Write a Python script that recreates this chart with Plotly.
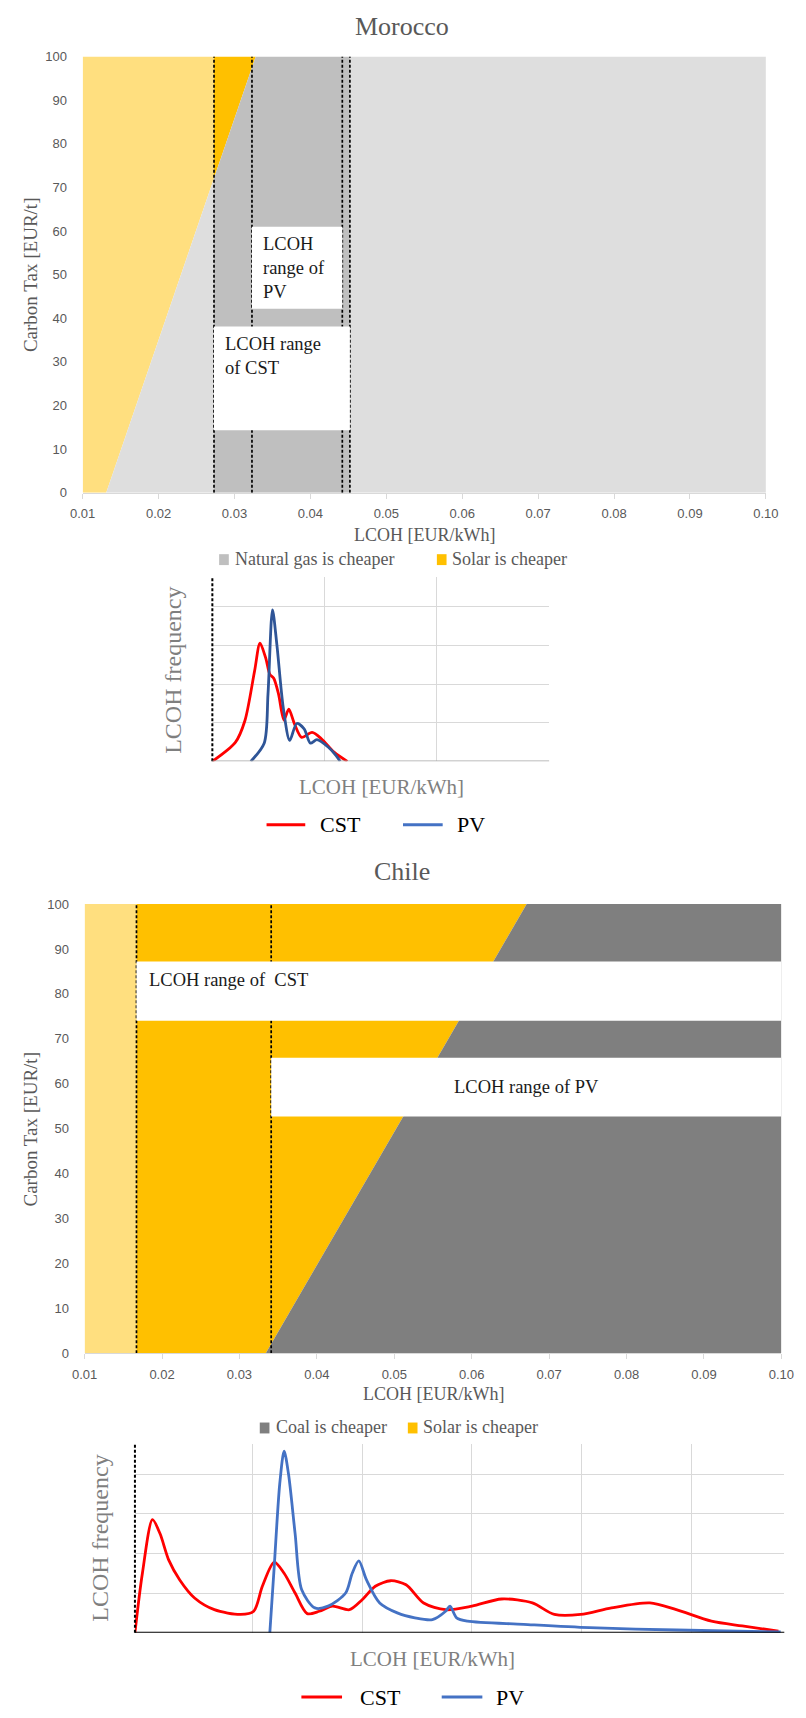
import plotly.graph_objects as go

W, H = 806, 1718

# ---------------- data ----------------
lcoh_ticks = [0.01, 0.02, 0.03, 0.04, 0.05, 0.06, 0.07, 0.08, 0.09, 0.10]
tax_ticks = [0, 10, 20, 30, 40, 50, 60, 70, 80, 90, 100]
tax_span = [0, 100]

# Morocco: LCOH at which solar = natural gas, at carbon tax 0 and 100 EUR/t
morocco_breakeven = [0.0131, 0.0328]
morocco_cst_range = [0.0273, 0.0452]
morocco_pv_range = [0.0323, 0.0442]
morocco_cst_box_tax = [14.3, 38.1]
morocco_pv_box_tax = [42.2, 61.0]

# Chile: LCOH at which solar = coal, at carbon tax 0 and 100 EUR/t
chile_breakeven = [0.0334, 0.0671]
chile_cst_range = [0.0167, 0.10]
chile_pv_range = [0.0341, 0.10]
chile_cst_box_tax = [74.0, 87.2]
chile_pv_box_tax = [52.7, 65.8]

# LCOH frequency curves (relative LCOH position, relative frequency)
mor_cst_x = [0, 0.205, 0.29, 0.376, 0.425, 0.476, 0.513, 0.547, 0.59, 0.638, 0.681, 0.732, 0.797, 0.889, 0.974, 1.085, 1.203]
mor_cst_y = [0, 0.49, 1.05, 2.33, 3.06, 2.67, 2.25, 2.15, 1.74, 1.07, 1.35, 0.97, 0.62, 0.75, 0.58, 0.24, 0]
mor_pv_x = [0.342, 0.462, 0.496, 0.536, 0.575, 0.632, 0.69, 0.752, 0.818, 0.874, 0.932, 1.032, 1.103, 1.139]
mor_pv_y = [0, 0.47, 1.74, 3.92, 3.02, 1.39, 0.54, 0.98, 0.84, 0.47, 0.56, 0.37, 0.15, 0]

chi_cst_x = [-0.068, 0.0, 0.092, 0.16, 0.24, 0.34, 0.475, 0.655, 0.894, 1.013, 1.092, 1.2, 1.29, 1.39, 1.5,
             1.61, 1.73, 1.885, 2.0, 2.12, 2.26, 2.4, 2.56, 2.76, 3.0, 3.27, 3.55, 3.75, 3.99, 4.27, 4.62,
             4.86, 5.18, 5.46, 5.79]
chi_cst_y = [0, 1.5, 2.85, 2.5, 1.83, 1.33, 0.875, 0.58, 0.46, 0.54, 1.17, 1.78, 1.5, 1.0, 0.48,
             0.54, 0.67, 0.58, 0.83, 1.17, 1.31, 1.21, 0.75, 0.58, 0.67, 0.85, 0.75, 0.46, 0.46, 0.625, 0.75,
             0.58, 0.29, 0.17, 0.04]
chi_pv_x = [1.16, 1.2, 1.25, 1.29, 1.33, 1.39, 1.45, 1.57, 1.69, 1.85, 1.91, 1.97, 2.04, 2.16, 2.32,
            2.48, 2.64, 2.76, 2.8, 2.86, 2.96, 3.47, 4.07, 4.86, 5.81]
chi_pv_y = [0, 1.67, 3.75, 4.58, 4.0, 2.5, 1.08, 0.625, 0.67, 1.0, 1.5, 1.81, 1.33, 0.75, 0.5,
            0.375, 0.33, 0.54, 0.67, 0.375, 0.29, 0.21, 0.125, 0.067, 0.02]

# ---------------- styles ----------------
SERIF = "Liberation Serif, Times New Roman, serif"
NARROW = "Liberation Sans Narrow, Liberation Sans, Arial, sans-serif"
GRAY_TXT = "#595959"
LIGHT_YEL = "#FFDF7F"
ORANGE = "#FFC000"
LIGHT_GRAY = "#DEDEDE"
MID_GRAY = "#BFBFBF"
DARK_GRAY = "#7F7F7F"
RED = "#FF0000"


def px(x):
    return x / W


def py(y):
    return 1 - y / H


def side_polygons(bd, a, b):
    """Solar-cheaper and fossil-cheaper polygons inside LCOH interval [a, b]."""
    bd0, bd1 = bd

    def bx(t):
        return bd0 + (bd1 - bd0) * t / 100.0

    def ty(x):
        return (x - bd0) / (bd1 - bd0) * 100.0

    ts = {0.0, 100.0}
    for v in (a, b):
        t = ty(v)
        if 0 < t < 100:
            ts.add(t)
    ts = sorted(ts)
    s_t, s_r, f_t, f_l = [], [], [], []
    for t in ts:
        r = min(b, bx(t))
        if r >= a - 1e-12:
            s_t.append(t)
            s_r.append(r)
        l = max(a, bx(t))
        if l <= b + 1e-12:
            f_t.append(t)
            f_l.append(l)
    solar = None
    if len(s_t) >= 2:
        solar = ([a] * len(s_t) + s_r[::-1], s_t + s_t[::-1])
    fossil = None
    if len(f_t) >= 2:
        fossil = (f_l + [b] * len(f_t), f_t + f_t[::-1])
    return solar, fossil


fig = go.Figure()


def add_poly(poly, color, xa, ya):
    if poly is None:
        return
    xs, ys = poly
    fig.add_trace(go.Scatter(x=xs, y=ys, fill="toself", fillcolor=color, mode="lines",
                             line=dict(width=0, color=color), hoverinfo="skip",
                             showlegend=False, xaxis=xa, yaxis=ya))


def regions(bd, ranges, solar_in, fossil_in, solar_out, fossil_out, xa, ya):
    lo = min(r[0] for r in ranges)
    hi = max(r[1] for r in ranges)
    for a, b, sc, fc in [(lcoh_ticks[0], lo, solar_out, fossil_out),
                         (lo, hi, solar_in, fossil_in),
                         (hi, lcoh_ticks[-1], solar_out, fossil_out)]:
        if b - a <= 1e-9:
            continue
        s, f = side_polygons(bd, a, b)
        add_poly(s, sc, xa, ya)
        add_poly(f, fc, xa, ya)
    edges = sorted({v for r in ranges for v in r if v < lcoh_ticks[-1] - 1e-9})
    for e in edges:
        fig.add_trace(go.Scatter(x=[e, e], y=tax_span, mode="lines",
                                 line=dict(color="black", width=1.7, dash="3px,2px"),
                                 hoverinfo="skip", showlegend=False, xaxis=xa, yaxis=ya))


regions(morocco_breakeven, [morocco_cst_range, morocco_pv_range], ORANGE, MID_GRAY,
        LIGHT_YEL, LIGHT_GRAY, "x", "y")
regions(chile_breakeven, [chile_cst_range, chile_pv_range], ORANGE, DARK_GRAY,
        LIGHT_YEL, DARK_GRAY, "x3", "y3")

# frequency curves
for xs, ys, col, xa, ya in [(mor_cst_x, mor_cst_y, RED, "x2", "y2"),
                            (mor_pv_x, mor_pv_y, "#2F5597", "x2", "y2"),
                            (chi_cst_x, chi_cst_y, RED, "x4", "y4"),
                            (chi_pv_x, chi_pv_y, "#4472C4", "x4", "y4")]:
    fig.add_trace(go.Scatter(x=xs, y=ys, mode="lines",
                             line=dict(color=col, width=2.8, shape="spline", smoothing=0.8),
                             hoverinfo="skip", showlegend=False, xaxis=xa, yaxis=ya))

shapes = []
annotations = []

# white range boxes
for rng, tx, xr, yr in [(morocco_pv_range, morocco_pv_box_tax, "x", "y"),
                        (morocco_cst_range, morocco_cst_box_tax, "x", "y"),
                        (chile_cst_range, chile_cst_box_tax, "x3", "y3"),
                        (chile_pv_range, chile_pv_box_tax, "x3", "y3")]:
    shapes.append(dict(type="rect", xref=xr, yref=yr, x0=rng[0], x1=rng[1], y0=tx[0], y1=tx[1],
                       fillcolor="white", line=dict(width=0), layer="above"))

box_font = dict(family=SERIF, size=18.5, color="#1a1a1a")
annotations += [
    dict(xref="x", yref="y", x=morocco_pv_range[0], y=morocco_pv_box_tax[1], xanchor="left",
         yanchor="top", xshift=9, yshift=-5, align="left", showarrow=False,
         text="LCOH<br>range of<br>PV", font=box_font),
    dict(xref="x", yref="y", x=morocco_cst_range[0], y=morocco_cst_box_tax[1], xanchor="left",
         yanchor="top", xshift=9, yshift=-5, align="left", showarrow=False,
         text="LCOH range<br>of CST", font=box_font),
    dict(xref="x3", yref="y3", x=chile_cst_range[0], y=chile_cst_box_tax[1], xanchor="left",
         yanchor="top", xshift=11, yshift=-6, align="left", showarrow=False,
         text="LCOH range of\u00a0 CST", font=box_font),
    dict(xref="x3", yref="y3", x=(chile_pv_range[0] + chile_pv_range[1]) / 2,
         y=(chile_pv_box_tax[0] + chile_pv_box_tax[1]) / 2, xanchor="center",
         yanchor="middle", showarrow=False, text="LCOH range of PV", font=box_font),
]

# frequency chart dashed start lines and baselines
shapes += [
    dict(type="line", xref="x2 domain", yref="y2 domain", x0=0, x1=0, y0=0, y1=1,
         line=dict(color="black", width=2, dash="3px,2px"), layer="above"),
    dict(type="line", xref="x2 domain", yref="y2", x0=0, x1=1, y0=0, y1=0,
         line=dict(color="#A6A6A6", width=1.5), layer="above"),
    dict(type="line", xref="x4 domain", yref="y4 domain", x0=0, x1=0, y0=0, y1=1,
         line=dict(color="black", width=2, dash="3px,2px"), layer="above"),
    dict(type="line", xref="x4 domain", yref="y4", x0=0, x1=1, y0=0, y1=0,
         line=dict(color="black", width=2), layer="above"),
]

# titles
title_font = dict(family=SERIF, size=26, color=GRAY_TXT)
axis_font = dict(family=SERIF, size=18, color=GRAY_TXT)
ytitle_font = dict(family=SERIF, size=19, color=GRAY_TXT)
freq_font = dict(family=SERIF, size=24, color="#7F7F7F")
freq_x_font = dict(family=SERIF, size=21, color="#7F7F7F")
leg_font = dict(family=SERIF, size=18, color=GRAY_TXT)
leg2_font = dict(family=SERIF, size=22, color="black")


def ann(x, y, text, font, xanchor="center", angle=0):
    annotations.append(dict(xref="paper", yref="paper", x=px(x), y=py(y), text=text,
                            font=font, showarrow=False, xanchor=xanchor, yanchor="middle",
                            textangle=angle))


ann(402, 20, "Morocco", title_font)
ann(425, 533, "LCOH [EUR/kWh]", axis_font)
ann(18, 270, "Carbon Tax [EUR/t]", ytitle_font, angle=-90)
ann(402, 872, "Chile", title_font)
ann(434, 1399, "LCOH [EUR/kWh]", axis_font)
ann(18, 1132, "Carbon Tax [EUR/t]", ytitle_font, angle=-90)

ann(165, 669, "LCOH frequency", freq_font, angle=-90)
ann(381, 787, "LCOH [EUR/kWh]", freq_x_font)
ann(89, 1545, "LCOH frequency", freq_font, angle=-90)
ann(433, 1667, "LCOH [EUR/kWh]", freq_x_font)

# area legends
for sq, col, tx, label, yc in [(213, MID_GRAY, 227, "Natural gas is cheaper", 557),
                               (438, ORANGE, 452, "Solar is cheaper", 557),
                               (255, DARK_GRAY, 270, "Coal is cheaper", 1433),
                               (408, ORANGE, 422, "Solar is cheaper", 1433)]:
    shapes.append(dict(type="rect", xref="paper", yref="paper", x0=px(sq), x1=px(sq + 10),
                       y0=py(yc + 6), y1=py(yc - 5), fillcolor=col, line=dict(width=0)))
    ann(tx, yc, label, leg_font, xanchor="left")

# frequency legends
for x0, x1, col, tx, label, yc in [(262, 302, RED, 315, "CST", 825),
                                   (403, 444, "#4472C4", 457, "PV", 825),
                                   (298, 340, RED, 357, "CST", 1705),
                                   (443, 485, "#4472C4", 497, "PV", 1705)]:
    shapes.append(dict(type="line", xref="paper", yref="paper", x0=px(x0), x1=px(x1),
                       y0=py(yc), y1=py(yc), line=dict(color=col, width=3)))
    ann(tx, yc, label, leg2_font, xanchor="left")

tick_font = dict(family=NARROW, size=13, color=GRAY_TXT)


def main_axes(xdom, ydom, anchor_x, anchor_y):
    xa = dict(domain=[px(xdom[0]), px(xdom[1])], range=[lcoh_ticks[0], lcoh_ticks[-1]],
              tickvals=lcoh_ticks, ticktext=[f"{v:.2f}" for v in lcoh_ticks],
              showgrid=False, zeroline=False, showline=True, linecolor="#D9D9D9", linewidth=1,
              ticks="outside", ticklen=5, tickcolor="#D9D9D9", tickfont=tick_font,
              ticklabelstandoff=4, anchor=anchor_y, fixedrange=True)
    ya = dict(domain=[py(ydom[1]), py(ydom[0])], range=[tax_span[0], tax_span[1]],
              tickvals=tax_ticks, showgrid=False, zeroline=False, showline=False,
              ticks="outside", ticklen=12, tickcolor="rgba(0,0,0,0)", tickfont=tick_font,
              anchor=anchor_x, fixedrange=True)
    return xa, ya


xa1, ya1 = main_axes((72, 778), (50, 490), "x", "y")
xa3, ya3 = main_axes((74, 794), (905, 1358), "x3", "y3")

freq_grid = dict(showgrid=True, gridcolor="#D9D9D9", gridwidth=1, zeroline=False,
                 showline=False, showticklabels=False, ticks="", fixedrange=True)

layout = dict(
    width=W, height=H, autosize=False, margin=dict(l=0, r=0, t=0, b=0),
    paper_bgcolor="white", plot_bgcolor="white", showlegend=False,
    xaxis=xa1, yaxis=ya1, xaxis3=xa3, yaxis3=ya3,
    xaxis2=dict(domain=[px(206), px(554)], range=[0, 3.002], tickvals=[1, 2, 3], anchor="y2", **freq_grid),
    yaxis2=dict(domain=[py(761), py(575)], range=[0, 4.77], tickvals=[1, 2, 3, 4], anchor="x2", **freq_grid),
    xaxis4=dict(domain=[px(126), px(797)], range=[-0.068, 5.843], tickvals=[1, 2, 3, 4, 5], anchor="y4", **freq_grid),
    yaxis4=dict(domain=[py(1640), py(1450)], range=[0, 4.75], tickvals=[1, 2, 3, 4], anchor="x4", **freq_grid),
    shapes=shapes, annotations=annotations,
)
fig.update_layout(**layout)

fig.write_html("out.html", config={"displayModeBar": False})
